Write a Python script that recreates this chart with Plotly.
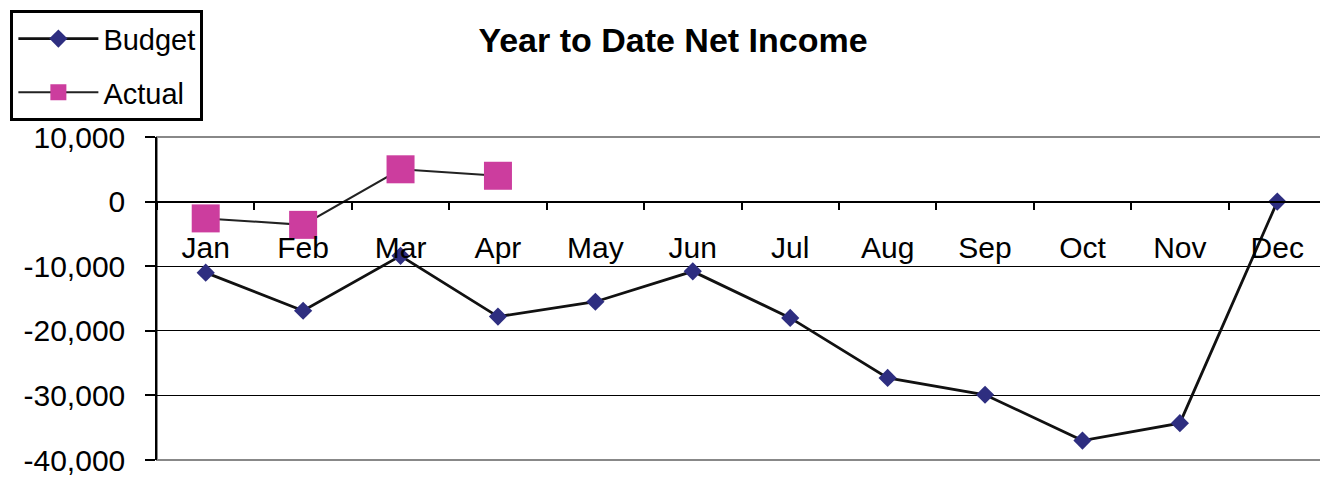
import plotly.graph_objects as go

months = ["Jan", "Feb", "Mar", "Apr", "May", "Jun", "Jul", "Aug", "Sep", "Oct", "Nov", "Dec"]
budget = [-11000, -16900, -8400, -17800, -15500, -10800, -18000, -27300, -29900, -37000, -34300, 0]
actual_months = ["Jan", "Feb", "Mar", "Apr"]
actual = [-2600, -3600, 5000, 4000]
y_tickvals = [10000, 0, -10000, -20000, -30000, -40000]
y_ticktext = ["10,000", "0", "-10,000", "-20,000", "-30,000", "-40,000"]

FONT = "Liberation Sans, Arial, sans-serif"

W, H = 1320, 471
L, R, T, B = 146, 2, 128, 17
PW, PH = W - L - R, H - T - B

fig = go.Figure()
fig.add_trace(go.Scatter(
    x=months, y=budget, name="Budget", mode="lines+markers",
    line=dict(color="#111111", width=2.8),
    marker=dict(symbol="diamond", size=14, color="#2E2E80"),
    legendgroup="b", cliponaxis=False,
))
fig.add_trace(go.Scatter(
    x=actual_months, y=actual, name="Actual", mode="lines+markers",
    line=dict(color="#222222", width=2),
    marker=dict(symbol="square", size=28, color="#CC3D9E"),
    legendgroup="a", cliponaxis=False,
))

fig.update_layout(
    width=W, height=H,
    margin=dict(l=L, r=R, t=T, b=B),
    paper_bgcolor="white", plot_bgcolor="white",
    font=dict(family=FONT, size=30, color="black"),
    title=dict(text="<b>Year to Date Net Income</b>", x=(673 - 8) / W, xref="container", xanchor="center",
               y=1 - (40 - 8) / H, yref="container", yanchor="middle",
               font=dict(family=FONT, size=34, color="black")),
    showlegend=True,
    legend=dict(x=(7 - 8 - L) / PW, y=1 + T / PH, xanchor="left", yanchor="top",
                bordercolor="black", borderwidth=3, bgcolor="white",
                font=dict(family=FONT, size=29, color="black"),
                itemwidth=80, tracegroupgap=13, traceorder="grouped"),
    xaxis=dict(
        type="category", categoryorder="array", categoryarray=months,
        range=[-0.5, 11.5], anchor="free", position=0.8,
        showline=True, linecolor="black", linewidth=1.5,
        ticks="outside", tickson="boundaries", ticklen=8, tickcolor="black", tickwidth=1.5,
        ticklabelstandoff=20, showgrid=False, zeroline=False,
        tickfont=dict(family=FONT, size=30, color="black"),
    ),
    yaxis=dict(
        range=[-40000, 10000], tickvals=y_tickvals, ticktext=y_ticktext,
        showline=True, linecolor="black", linewidth=1.5,
        ticks="outside", ticklen=10, tickcolor="black", tickwidth=1.5,
        ticklabelstandoff=14,
        showgrid=True, gridcolor="black", gridwidth=1.2, zeroline=False,
        tickfont=dict(family=FONT, size=30, color="black"),
    ),
    shapes=[dict(type="rect", xref="paper", yref="paper", x0=0, x1=1, y0=0, y1=1,
                 line=dict(color="#888888", width=2), layer="below")],
)

fig.write_html("out.html")
